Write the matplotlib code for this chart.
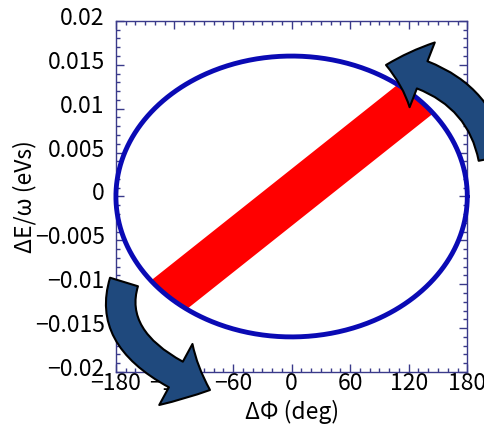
import numpy as np
import matplotlib
matplotlib.use('Agg')
import matplotlib.pyplot as plt
from matplotlib.patches import FancyArrowPatch
from matplotlib.transforms import IdentityTransform, ScaledTranslation
from matplotlib.ticker import MultipleLocator

plt.rcParams['font.family'] = ['Noto Sans CJK JP', 'DejaVu Sans']

# acceptance ellipse: half widths in phase (deg) and energy (eVs)
phase_half = 180.0
energy_half = 0.016

# bunch band: centre line through these end points, +- half height in energy
band_phase = [-180.0, 180.0]
band_energy = [-0.0159, 0.0159]
band_half_height = 0.00325

x_ticks = [-180, -120, -60, 0, 60, 120, 180]
y_ticks = [-0.02, -0.015, -0.01, -0.005, 0, 0.005, 0.01, 0.015, 0.02]
y_tick_labels = ['\u22120.02', '\u22120.015', '\u22120.01', '\u22120.005', '0',
                 '0.005', '0.01', '0.015', '0.02']

frame_color = '#3a3a8a'

fig = plt.figure(figsize=(4.85, 4.24), dpi=100)
ax = fig.add_axes([0.239, 0.1226, 0.7245, 0.828])

# red band clipped to the inside of the ellipse
phi = np.linspace(-phase_half, phase_half, 2001)
edge = energy_half * np.sqrt(np.clip(1 - (phi / phase_half) ** 2, 0, None))
slope = (band_energy[1] - band_energy[0]) / (band_phase[1] - band_phase[0])
centre = band_energy[0] + slope * (phi - band_phase[0])
lower = np.maximum(centre - band_half_height, -edge)
upper = np.minimum(centre + band_half_height, edge)
ax.fill_between(phi, lower, upper, where=upper > lower, color='#ff0000',
                linewidth=0, zorder=2)

# ellipse outline
t = np.linspace(0, 2 * np.pi, 721)
ax.plot(phase_half * np.cos(t), energy_half * np.sin(t), color='#0a0ab4',
        lw=3.5, zorder=3, clip_on=False, solid_capstyle='round')

ax.set_xlim(-180, 180)
ax.set_ylim(-0.02, 0.02)
ax.set_xticks(x_ticks)
ax.set_xticklabels([str(v).replace('-', '\u2212') for v in x_ticks])
ax.set_yticks(y_ticks)
ax.set_yticklabels(y_tick_labels)
ax.xaxis.set_minor_locator(MultipleLocator(10))
ax.yaxis.set_minor_locator(MultipleLocator(0.001))
ax.tick_params(which='both', direction='in', top=True, right=True,
               color=frame_color, width=1.0)
ax.tick_params(which='major', length=6)
ax.tick_params(which='minor', length=3)
ax.tick_params(axis='x', which='major', pad=0, labelsize=16.5)
ax.tick_params(axis='y', which='major', pad=8, labelsize=16.5)
for s in ax.spines.values():
    s.set_color(frame_color)
    s.set_linewidth(1.0)

# y tick labels sit a little above their ticks
lift = ScaledTranslation(0, 5 / 100, fig.dpi_scale_trans)
for lbl in ax.get_yticklabels():
    lbl.set_transform(lbl.get_transform() + lift)

ax.set_xlabel('\u0394\u03a6 (deg)', fontsize=16.5)
ax.xaxis.set_label_coords(0.5, -0.08)
ax.set_ylabel('\u0394E/\u03c9 (eVs)', fontsize=16.5)
ax.yaxis.set_label_coords(-0.225, 0.5)

# rotation arrows (pixel positions on the figure)
arrow_style = 'Simple, tail_width=21, head_width=50, head_length=27'
arrows = [
    ((124, 142), (210, 34), 'angle3,angleA=-107,angleB=-21'),
    ((493, 266), (386, 359), 'angle3,angleA=101,angleB=170'),
]
for start, end, conn in arrows:
    fig.add_artist(FancyArrowPatch(start, end, transform=IdentityTransform(),
                                   arrowstyle=arrow_style, connectionstyle=conn,
                                   facecolor='#1f497d', edgecolor='black',
                                   linewidth=1.5, shrinkA=0, shrinkB=0,
                                   zorder=5))

fig.savefig('out.png', dpi=100)
plt.close(fig)
